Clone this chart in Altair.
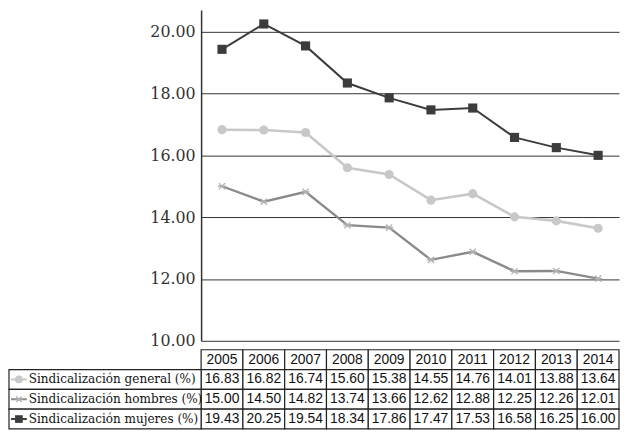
import altair as alt
import pandas as pd

years = ["2005", "2006", "2007", "2008", "2009", "2010", "2011", "2012", "2013", "2014"]
general = [16.83, 16.82, 16.74, 15.60, 15.38, 14.55, 14.76, 14.01, 13.88, 13.64]
hombres = [15.00, 14.50, 14.82, 13.74, 13.66, 12.62, 12.88, 12.25, 12.26, 12.01]
mujeres = [19.43, 20.25, 19.54, 18.34, 17.86, 17.47, 17.53, 16.58, 16.25, 16.00]

series_keys = ["general", "hombres", "mujeres"]
series_labels = ["Sindicalización general (%)", "Sindicalización hombres (%)", "Sindicalización mujeres (%)"]
series_values = [general, hombres, mujeres]
line_colors = ["#c8c8c8", "#8a8a8a", "#3c3c3c"]
marker_colors = ["#c8c8c8", "#b0b0b0", "#3c3c3c"]
y_ticks = [10, 12, 14, 16, 18, 20]
row_order = ["header"] + series_keys

SERIF_AXIS = "DejaVu Serif"
SERIF = "DejaVu Serif Condensed"
SANS = "Liberation Sans"

ASTERISK = "M-1,0L1,0M-0.75,-0.75L0.75,0.75M-0.75,0.75L0.75,-0.75"
shapes = ["circle", ASTERISK, "square"]
filled = [True, False, True]
line_widths = [2.6, 2.4, 2.0]

EXT = 195

# ---- line chart ----
line_df = pd.DataFrame(
    [{"serie": k, "year": y, "value": v}
     for k, vals in zip(series_keys, series_values)
     for y, v in zip(years, vals)]
)

X_line = alt.X("year:O", sort=years, scale=alt.Scale(type="point", padding=0.5), axis=None)
Y_line = alt.Y(
    "value:Q",
    scale=alt.Scale(domain=[10, 20.7], nice=False, zero=False),
    axis=alt.Axis(
        values=y_ticks, format=".2f", grid=True, gridColor="#333", gridWidth=1,
        domainColor="#333", domainWidth=1.5, ticks=False,
        labelFont=SERIF_AXIS, labelFontSize=16, labelColor="#333",
        labelPadding=6, minExtent=EXT, maxExtent=EXT, title=None,
    ),
)

layers = []
for k, lc, mc, shp, fl, lw in zip(series_keys, line_colors, marker_colors, shapes, filled, line_widths):
    base = alt.Chart(line_df).transform_filter(alt.datum.serie == k)
    layers.append(base.mark_line(color=lc, strokeWidth=lw).encode(x=X_line, y=Y_line))
for k, lc, mc, shp, fl, lw in zip(series_keys, line_colors, marker_colors, shapes, filled, line_widths):
    base = alt.Chart(line_df).transform_filter(alt.datum.serie == k)
    if fl:
        pt = base.mark_point(shape=shp, filled=True, color=mc, opacity=1, size=85)
    else:
        pt = base.mark_point(shape=shp, filled=False, color=mc, opacity=1, size=70, strokeWidth=1.3)
    layers.append(pt.encode(x=X_line, y=Y_line))

line_chart = alt.layer(*layers).properties(width=422, height=334)

# ---- data table ----
table_rows = [{"row": "header", "year": y, "text": y} for y in years]
for k, vals in zip(series_keys, series_values):
    for y, v in zip(years, vals):
        table_rows.append({"row": k, "year": y, "text": f"{v:.2f}"})
table_df = pd.DataFrame(table_rows)
label_df = pd.DataFrame({"row": series_keys, "label": series_labels})

X_tab = alt.X("year:O", sort=years, scale=alt.Scale(paddingInner=0, paddingOuter=0), axis=None)
Y_tab = alt.Y(
    "row:N", sort=row_order,
    scale=alt.Scale(domain=row_order, paddingInner=0, paddingOuter=0),
    axis=alt.Axis(labels=False, ticks=False, domain=False, grid=False, title=None,
                  minExtent=EXT, maxExtent=EXT),
)

cells = alt.Chart(table_df).mark_rect(fill="white", stroke="#222", strokeWidth=1.2).encode(x=X_tab, y=Y_tab)
cell_text = alt.Chart(table_df).mark_text(font=SANS, fontSize=14, color="#111").encode(
    x=X_tab, y=Y_tab, text="text:N")

label_boxes = alt.Chart(label_df).mark_rect(fill="white", stroke="#222", strokeWidth=1.2).encode(
    x=alt.value(-EXT + 1), x2=alt.value(0), y=Y_tab)
swatch_lines = alt.Chart(label_df).mark_rule(strokeWidth=2).encode(
    x=alt.value(-EXT + 3), x2=alt.value(-EXT + 19), y=Y_tab,
    color=alt.Color("row:N", scale=alt.Scale(domain=series_keys, range=line_colors), legend=None))

swatch_pts = []
for k, mc, shp, fl in zip(series_keys, marker_colors, shapes, filled):
    b = alt.Chart(label_df).transform_filter(alt.datum.row == k)
    if fl:
        p = b.mark_point(shape=shp, filled=True, color=mc, opacity=1, size=60)
    else:
        p = b.mark_point(shape=shp, filled=False, color=mc, opacity=1, size=55, strokeWidth=1.2)
    swatch_pts.append(p.encode(x=alt.value(-EXT + 11), y=Y_tab))

label_text = alt.Chart(label_df).mark_text(
    align="left", font=SERIF, fontSize=13.5, color="#111").encode(
    x=alt.value(-EXT + 21), y=Y_tab, text="label:N")

table_chart = alt.layer(cells, cell_text, label_boxes, swatch_lines, *swatch_pts, label_text).properties(
    width=422, height=80)

chart = alt.vconcat(line_chart, table_chart, spacing=0).properties(padding=0).configure_view(stroke=None)

chart.save("out.html", embed_options={"renderer": "svg", "actions": False})
